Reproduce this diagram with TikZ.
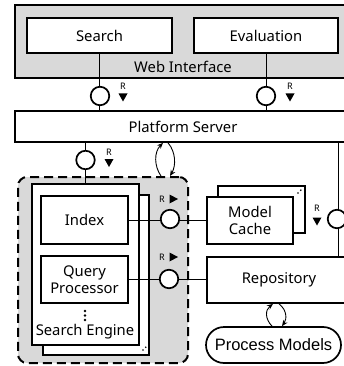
\documentclass[tikz,border=0pt]{standalone}
\usepackage{fontspec}
\setmainfont{Noto Sans}
\newfontfamily\arialf{Liberation Sans}
\usetikzlibrary{arrows.meta}
\definecolor{panel}{HTML}{D9D9D9}
\begin{document}
\begin{tikzpicture}[x=1pt,y=-1pt,
  box/.style={draw, line width=1.7pt, fill=white, inner sep=0pt, font=\fontsize{14.8}{17.5}\selectfont, align=center},
  graybox/.style={draw, line width=1.7pt, fill=panel, inner sep=0pt},
  dashbox/.style={draw, line width=2pt, fill=panel, inner sep=0pt, rounded corners=9pt, dash pattern=on 9pt off 5pt},
  lbl/.style={inner sep=0pt, font=\fontsize{14.8}{17.5}\selectfont},
  iface/.style={circle, draw, line width=1.7pt, fill=white, minimum size=18.5pt, inner sep=0pt},
  conn/.style={line width=0.9pt},
  rlab/.style={font=\fontsize{9}{9}\selectfont, inner sep=0pt},
  cyc/.style={line width=0.9pt, -{Stealth[length=6pt,width=5pt]}},
  downtri/.pic={\fill (-4.5,-4) -- (4.5,-4) -- (0,4) -- cycle;},
  righttri/.pic={\fill (-4,-4.5) -- (-4,4.5) -- (4.5,0) -- cycle;},
  multi/.pic={\fill (0,0) circle (0.9pt); \fill (2.8,-2.8) circle (0.9pt);},
  ]
\useasboundingbox (0,0) rectangle (344,366);
\begin{scope}
\clip (0,0) rectangle (344,366);
% web interface
\node[graybox, minimum width=336pt, minimum height=73pt] (web) at (183,41.5) {};
\node[box, minimum width=145pt, minimum height=35pt] (search) at (99.5,35.5) {Search};
\node[box, minimum width=144pt, minimum height=35pt] (eval) at (266,35.5) {Evaluation};
\node[lbl] (weblbl) at (183,67) {Web Interface};
% platform server
\node[box, minimum width=336pt, minimum height=31pt] (ps) at (183,126.5) {Platform Server};
% engine group
\node[dashbox, minimum width=170pt, minimum height=186pt] (eng) at (103,270) {};
\node[box, minimum width=106pt, minimum height=160pt] (seback) at (96,275) {};
\node[box, minimum width=107pt, minimum height=161pt] (se) at (85.5,264.5) {};
\node[box, minimum width=87pt, minimum height=48pt] (index) at (84.5,220) {Index};
\node[box, minimum width=87pt, minimum height=47pt] (qp) at (84.5,279.5) {Query\\Processor};
\node[lbl] (selbl) at (85,332) {Search Engine};
\fill (85,311) circle (1.4pt) (85,315.5) circle (1.4pt) (85,320) circle (1.4pt);
\pic at (143,350) {multi};
% model cache
\node[box, minimum width=87pt, minimum height=47pt] (mcback) at (261.5,209.5) {};
\node[box, minimum width=86pt, minimum height=47pt] (mc) at (250,220.5) {Model\\Cache};
\pic at (298,193) {multi};
% repository
\node[box, minimum width=144pt, minimum height=46pt] (repo) at (279,280) {Repository};
\node[box, rounded corners=18pt, minimum width=135pt, minimum height=36pt, font=\arialf\fontsize{16.5}{18}\selectfont] (pm) at (273.5,345) {Process Models};
% connectors
\draw[conn] (search.south) -- (search.south |- ps.north);
\draw[conn] (eval.south) -- (eval.south |- ps.north);
\draw[conn] (se.north |- ps.south) -- (se.north);
\draw[conn] (index.east) -- (index.east -| mc.west);
\draw[conn] (qp.east) -- (qp.east -| repo.west);
\coordinate (rx) at (338,0);
\draw[conn] (rx |- ps.south) -- (rx |- repo.north);
% interfaces
\node[iface] (i1) at (100,96) {};
\node[iface] (i2) at (266,96) {};
\node[iface] (i3) at (85.5,160) {};
\node[iface] (i4) at (170,219) {};
\node[iface] (i5) at (169,279) {};
\node[iface] (i6) at (337,219) {};
% R labels
\node[rlab] (r1) at (123,86) {R}; \pic at (123,97.5) {downtri};
\node[rlab] (r2) at (290,86) {R}; \pic at (290,97.5) {downtri};
\node[rlab] (r3) at (109,152) {R}; \pic at (109,163) {downtri};
\node[rlab] (r4) at (162,199) {R}; \pic at (173.5,199) {righttri};
\node[rlab] (r5) at (162,257) {R}; \pic at (173.5,257) {righttri};
\node[rlab] (r6) at (317,208) {R}; \pic at (317,221.5) {downtri};
% cycles
\draw[cyc] (161,0 |- eng.north) .. controls (154,166) and (154,152) .. (163,0 |- ps.south);
\draw[cyc] (168,0 |- ps.south) .. controls (176,152) and (176,166) .. (170,0 |- eng.north);
\draw[cyc] (272,0 |- pm.north) .. controls (265,319) and (265,310) .. (273,0 |- repo.south);
\draw[cyc] (279,0 |- repo.south) .. controls (287,310) and (287,319) .. (282,0 |- pm.north);
\end{scope}
\end{tikzpicture}
\end{document}
